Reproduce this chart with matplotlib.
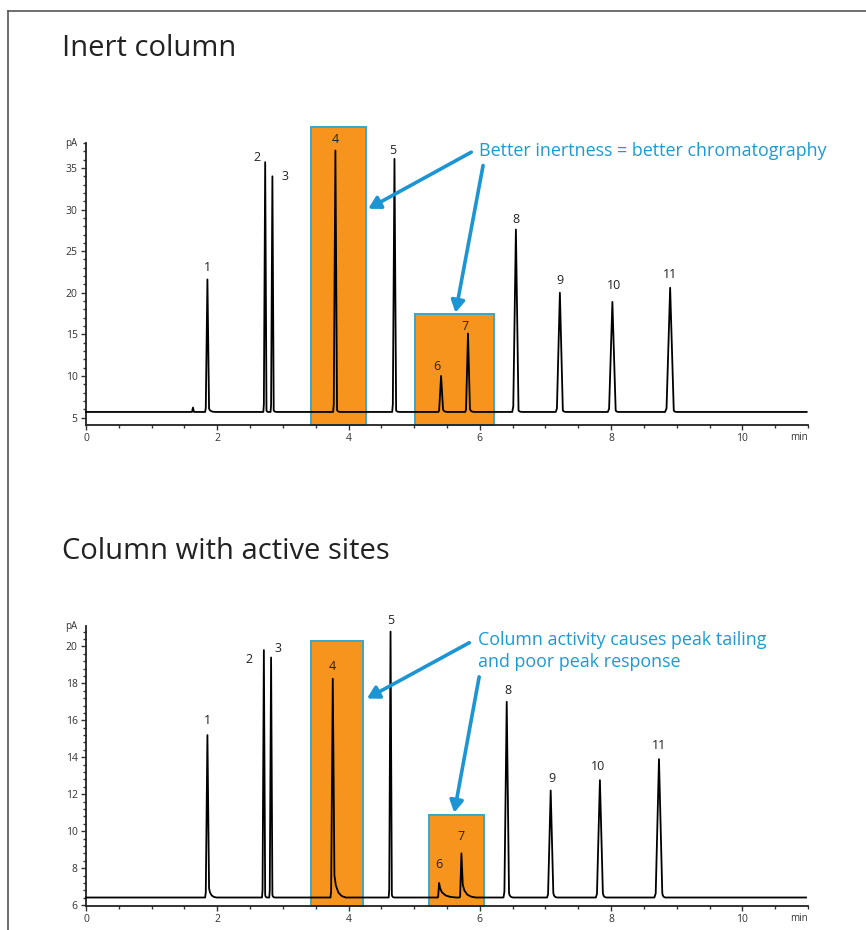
import matplotlib
matplotlib.use("Agg")
import matplotlib.pyplot as plt
from matplotlib.patches import Rectangle, FancyArrowPatch
from matplotlib.lines import Line2D
from matplotlib.ticker import MultipleLocator

plt.rcParams['font.family'] = ['Open Sans', 'DejaVu Sans']

# Inert column: retention time (min), apex height (pA), base width (min),
# tail height above baseline (pA), tail length after apex (min)
top_labels = ['', '1', '2', '3', '4', '5', '6', '7', '8', '9', '10', '11']
top_rt = [1.63, 1.85, 2.73, 2.84, 3.80, 4.70, 5.41, 5.82, 6.55, 7.22, 8.02, 8.90]
top_height = [6.2, 21.6, 35.7, 34.0, 37.1, 36.1, 10.0, 15.1, 27.6, 20.0, 18.9, 20.6]
top_width = [0.03, 0.05, 0.04, 0.04, 0.05, 0.05, 0.06, 0.06, 0.08, 0.09, 0.10, 0.11]
top_tail_h = [0.0, 0.4, 0.2, 0.2, 0.25, 0.2, 0.3, 0.35, 0.2, 0.2, 0.2, 0.2]
top_tail_len = [0.02, 0.12, 0.05, 0.07, 0.08, 0.08, 0.10, 0.10, 0.10, 0.10, 0.10, 0.10]
top_baseline = 5.67
top_end = 10.98

# Column with active sites
bot_labels = ['1', '2', '3', '4', '5', '6', '7', '8', '9', '10', '11']
bot_rt = [1.85, 2.71, 2.82, 3.76, 4.64, 5.38, 5.72, 6.41, 7.08, 7.83, 8.73]
bot_height = [15.2, 19.8, 19.4, 18.25, 20.8, 7.2, 8.8, 17.0, 12.2, 12.76, 13.9]
bot_width = [0.05, 0.04, 0.04, 0.05, 0.04, 0.03, 0.04, 0.07, 0.08, 0.09, 0.10]
bot_tail_h = [0.5, 0.15, 0.15, 1.2, 0.15, 0.5, 0.7, 0.25, 0.25, 0.25, 0.25]
bot_tail_len = [0.14, 0.05, 0.06, 0.20, 0.06, 0.26, 0.22, 0.10, 0.10, 0.10, 0.10]
bot_baseline = 6.41
bot_end = 10.97

# label offsets from apex in points (dx, dy)
top_label_off = [(0, 0), (0, 8.5), (-6, 3.5), (9, 0), (0, 8), (-1, 6), (-3, 7),
                 (-2, 5), (0, 7), (0, 9), (1.5, 12), (0, 9.5)]
bot_label_off = [(0, 10.5), (-11, -6.5), (5, 6.5), (0, 9), (0, 8), (0, 13),
                 (0, 12), (1, 8.5), (1, 9), (-1, 9.5), (0, 10)]

# highlight boxes (x0, x1, y0, y1)
top_boxes = [(3.435, 4.27, 4.1, 39.9), (5.01, 6.21, 4.1, 17.5)]
bot_boxes = [(3.435, 4.22, 5.95, 20.27), (5.22, 6.06, 5.95, 10.88)]

orange = '#F7941D'
box_edge = '#3AA6C9'
blue = '#1B95D3'
text_blue = '#1A9AD6'

# shape of the tail: position along tail, fraction of tail height
tail_pos = [0.0, 0.12, 0.35, 0.65, 1.0]
tail_frac = [1.0, 0.55, 0.22, 0.06, 0.0]


def trace(rt, height, width, tail_h, tail_len, base, end):
    xs = [0.0]
    ys = [base]
    for t, h, w, th, tl in zip(rt, height, width, tail_h, tail_len):
        half = w / 2
        xs += [t - 1.4 * half, t - half, t]
        ys += [base, base + 0.03 * (h - base), h]
        for p, f in zip(tail_pos, tail_frac):
            xs.append(t + half + (tl - half) * p)
            ys.append(base + th * f)
    xs.append(end)
    ys.append(base)
    return xs, ys


def draw_panel(ax, rt, height, width, tail_h, tail_len, base, end, labels,
               offsets, boxes, ylim, ymajor, yminor):
    for x0, x1, y0, y1 in boxes:
        ax.add_patch(Rectangle((x0, y0), x1 - x0, y1 - y0, facecolor=orange,
                               edgecolor=box_edge, lw=1.4, clip_on=False, zorder=1))
    xs, ys = trace(rt, height, width, tail_h, tail_len, base, end)
    ax.plot(xs, ys, color='black', lw=1.3, zorder=3, clip_on=False,
            solid_joinstyle='round')
    for lab, t, h, off in zip(labels, rt, height, offsets):
        if lab:
            ax.annotate(lab, (t, h), xytext=off, textcoords='offset points',
                        ha='center', va='center', fontsize=9, color='#222222',
                        zorder=4)
    ax.set_xlim(0, 11)
    ax.set_ylim(*ylim)
    ax.xaxis.set_major_locator(MultipleLocator(2))
    ax.xaxis.set_minor_locator(MultipleLocator(0.5))
    ax.yaxis.set_major_locator(MultipleLocator(ymajor))
    ax.yaxis.set_minor_locator(MultipleLocator(yminor))
    ax.set_xticks([0, 2, 4, 6, 8, 10])
    ax.set_yticks([v for v in ax.get_yticks() if ylim[0] <= v <= ylim[1]])
    ax.tick_params(which='major', length=3.5, width=1.0, labelsize=7.5,
                   colors='#333333', pad=2.5)
    ax.tick_params(which='minor', length=2.5, width=1.0, colors='#333333')
    for s in ['top', 'right']:
        ax.spines[s].set_visible(False)
    for s in ['left', 'bottom']:
        ax.spines[s].set_linewidth(1.3)
        ax.spines[s].set_color('#222222')
    ax.text(-0.012, 1.0, 'pA', transform=ax.transAxes, ha='right', va='center',
            fontsize=7, color='#333333')
    ax.text(1.0, -0.045, 'min', transform=ax.transAxes, ha='right', va='center',
            fontsize=7, color='#333333')


fig = plt.figure(figsize=(8.66, 9.30), dpi=100)

ax_top = fig.add_axes([0.0993, 0.543, 0.8337, 0.3032])
ax_top.patch.set_alpha(0)
draw_panel(ax_top, top_rt, top_height, top_width, top_tail_h, top_tail_len,
           top_baseline, top_end, top_labels, top_label_off, top_boxes,
           (4.1, 38.0), 5, 1)

ax_bot = fig.add_axes([0.0993, 0.0258, 0.8337, 0.301])
ax_bot.patch.set_alpha(0)
draw_panel(ax_bot, bot_rt, bot_height, bot_width, bot_tail_h, bot_tail_len,
           bot_baseline, bot_end, bot_labels, bot_label_off, bot_boxes,
           (5.95, 21.1), 2, 0.4)

# annotations
ax_top.text(5.99, 37.1, 'Better inertness = better chromatography', ha='left',
            va='center', fontsize=12.9, color=text_blue, clip_on=False, zorder=5)
for start, tip in [((5.87, 36.9), (4.30, 30.1)), ((6.05, 35.3), (5.63, 17.6))]:
    ax_top.add_patch(FancyArrowPatch(start, tip, arrowstyle='-|>,head_length=7,head_width=4',
                                     color=blue, lw=2.6, shrinkA=0, shrinkB=0,
                                     clip_on=False, zorder=5))

ax_bot.text(5.97, 20.36, 'Column activity causes peak tailing', ha='left',
            va='center', fontsize=12.9, color=text_blue, clip_on=False, zorder=5)
ax_bot.text(5.97, 19.17, 'and poor peak response', ha='left',
            va='center', fontsize=12.9, color=text_blue, clip_on=False, zorder=5)
for start, tip in [((5.84, 20.2), (4.28, 17.18)), ((5.99, 18.35), (5.61, 11.0))]:
    ax_bot.add_patch(FancyArrowPatch(start, tip, arrowstyle='-|>,head_length=7,head_width=4',
                                     color=blue, lw=2.6, shrinkA=0, shrinkB=0,
                                     clip_on=False, zorder=5))

# titles
fig.text(62 / 866, 1 - 56 / 930, 'Inert column', ha='left', va='baseline',
         fontsize=21, color='#222222')
fig.text(62 / 866, 1 - 559 / 930, 'Column with active sites', ha='left',
         va='baseline', fontsize=21, color='#222222')

# page frame
fig.add_artist(Line2D([8 / 866, 8 / 866], [0, 1 - 11 / 930], transform=fig.transFigure,
                      color='#555555', lw=1.2))
fig.add_artist(Line2D([8 / 866, 1], [1 - 11 / 930, 1 - 11 / 930], transform=fig.transFigure,
                      color='#555555', lw=1.2))

fig.savefig('out.png', dpi=100)
